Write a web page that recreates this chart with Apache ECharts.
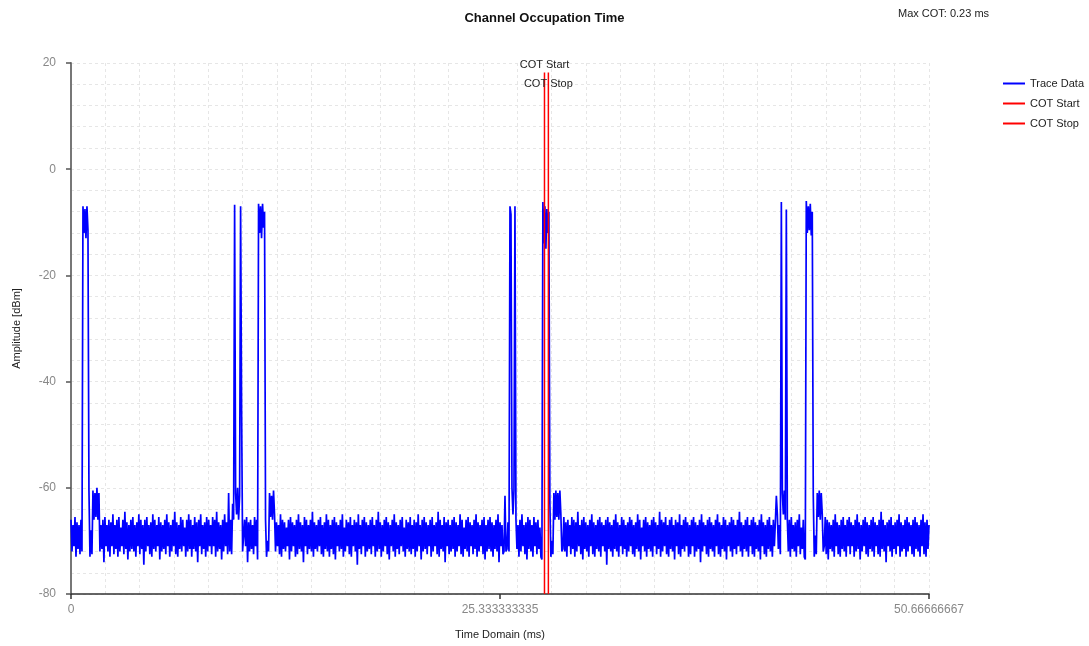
<!DOCTYPE html>
<html>
<head>
<meta charset="utf-8">
<script src="https://cdn.jsdelivr.net/npm/echarts@6/dist/echarts.min.js"></script>
<style>
html,body{margin:0;padding:0;background:#fff;}
#chart{width:1089px;height:646px;}
</style>
</head>
<body>
<div id="chart"></div>
<script>
// ---------- data ----------
const chartTitle = 'Channel Occupation Time';
const maxCotText = 'Max COT: 0.23 ms';
const seriesNames = ['Trace Data', 'COT Start', 'COT Stop'];
const timeMax = 50.66666667;                 // ms, end of trace
const xTickValues = [0, 25.333333335, 50.66666667];
const xTickLabels = ['0', '25.333333335', '50.66666667'];
const yTickValues = [-80, -60, -40, -20, 0, 20];
const cotStart = 27.96;                      // ms
const cotStop = 28.19;                       // ms
const cotLineTop = 18.2;                     // dBm, top of COT marker lines

// noise floor, uniformly sampled (861 samples over 0..timeMax), dBm
const noiseFloor = [
-66,-72,-67,-71,-65.5,-73,-66.5,-71.5,-67,-72.5,-66,-71,-65,-72,-67.5,-73.5,-66,-71,-66.5,-72,
-65.5,-71.5,-67,-72,-66,-73,-64.5,-71,-66.5,-72.5,-67,-71.5,-66,-74,-65.5,-71,-67,-72,-66,-73,
-66.5,-71,-65,-72.5,-67,-71.5,-66,-73,-65.5,-72,-67.5,-71,-66,-72.5,-64.5,-71.5,-66.5,-73.5,-67,-72,
-66,-71.5,-65.5,-72,-67,-73,-66.5,-71,-65,-72.5,-66,-71.5,-67,-74.5,-66,-72,-65.5,-71,-67,-72.5,
-66.5,-73,-65,-71.5,-66,-72,-67,-71,-65.5,-73.5,-66.5,-72,-67,-71.5,-66,-72.5,-65,-71,-66.5,-73,
-67,-72,-66,-71,-64.5,-72.5,-66.5,-73,-67,-71.5,-65.5,-72,-66,-71,-67.5,-73,-66,-72,-65,-71.5,
-66,-73,-67,-71.5,-65.5,-72,-66.5,-74,-66,-71,-65,-72.5,-67,-71.5,-66.5,-73,-65.5,-72,-66,-71,
-67,-72.5,-65.5,-71,-66,-73,-64.5,-72,-66.5,-71.5,-67,-73.5,-66,-72,-65,-71,-66.5,-72.5,-67,-71.5,
-65.5,-72,-66,-73,-67,-71,-66.5,-72.5,-65,-71.5,-66,-73,-67.5,-72,-66,-71,-65.5,-74,-66.5,-72,
-66,-71.5,-67,-72.5,-65.5,-71,-66,-73,-66.5,-72,-65,-71.5,-67,-72.5,-66,-73.5,-64.5,-71,-66.5,-72,
-67,-73,-66,-71.5,-65.5,-72,-66.5,-71,-67,-72.5,-65,-73,-66,-71.5,-66.5,-72,-67.5,-71,-66,-73.5,
-65.5,-72,-66.5,-71,-67,-73,-66,-72.5,-65,-71.5,-66.5,-72,-67,-74,-65.5,-71,-66,-72.5,-67,-71.5,
-66,-72,-64.5,-73,-66.5,-71.5,-67,-72,-66,-71,-65.5,-72.5,-67,-73,-66.5,-71.5,-65,-72,-66,-73,
-67,-71.5,-66,-72.5,-65.5,-73.5,-66.5,-71,-67,-72,-66,-71.5,-65,-73,-67.5,-72,-66,-71,-66.5,-72.5,
-65.5,-73,-67,-71,-66,-72,-66.5,-74.5,-65,-71.5,-67,-72.5,-66,-71,-65.5,-73,-66.5,-72,-67,-71.5,
-66,-72.5,-65.5,-71,-67,-73,-66,-72,-64.5,-71.5,-66.5,-73,-67,-72,-66,-71,-65.5,-72.5,-66.5,-73.5,
-67,-71,-66,-72,-65,-73,-66.5,-71.5,-67,-72.5,-66,-71,-65.5,-72,-67.5,-73,-66,-71.5,-66.5,-72,
-65.5,-72.5,-67,-71.5,-66,-73,-66.5,-72,-65,-71,-67,-73.5,-66,-72,-65.5,-71.5,-66.5,-72.5,-67,-71,
-66,-73,-65.5,-72,-67,-71,-66.5,-72.5,-64.5,-73,-66,-71.5,-67,-72,-65.5,-74,-66.5,-71,-66,-72.5,
-67,-72,-66,-71.5,-65.5,-73,-66.5,-72,-67,-71,-65,-72.5,-66,-73,-67.5,-71.5,-66,-72,-65.5,-73,
-66.5,-71,-67,-72.5,-66,-71.5,-65,-73,-66.5,-72,-67,-71,-66,-72.5,-65.5,-73.5,-67,-72,-66,-71.5,
-65.5,-72,-66.5,-73,-67,-71.5,-66,-72,-65,-74,-66.5,-71,-67,-72.5,-66,-73,-64.5,-71.5,-66.5,-72,
-67,-73,-66,-71,-65.5,-72.5,-66.5,-71.5,-67,-73,-66,-72,-65,-71,-67,-72.5,-66.5,-73.5,-65.5,-71.5,
-66,-72,-67,-73,-65.5,-71,-66.5,-72.5,-66,-71.5,-67.5,-73,-65,-72,-66,-71,-66.5,-72.5,-67,-74,
-65.5,-71.5,-66,-72,-67,-73,-66.5,-71,-65,-72.5,-66,-73,-67,-71.5,-65.5,-72,-66.5,-73,-66,-71,
-67,-72.5,-65.5,-71.5,-66,-73,-66.5,-72,-64.5,-71,-67,-72.5,-66,-73.5,-65.5,-71.5,-66.5,-72,-67,-73,
-66,-71,-65,-72.5,-66.5,-73,-67,-71.5,-66,-72,-65.5,-73,-66.5,-71,-67,-72,-66,-74.5,-65.5,-71.5,
-66.5,-72,-67,-73,-66,-71.5,-65,-72,-66.5,-73,-67,-71,-65.5,-72.5,-66,-71.5,-67,-73,-66.5,-72,
-65.5,-71,-66,-72.5,-67,-73,-66.5,-71.5,-65,-72,-66,-73.5,-67.5,-71,-66,-72,-65.5,-73,-66.5,-71.5,
-67,-72,-66,-73,-65.5,-71,-66.5,-72.5,-67,-71.5,-64.5,-73,-66,-72,-66.5,-71,-65.5,-72.5,-67,-73,
-66,-71.5,-65.5,-72,-67,-73.5,-66,-71,-66.5,-72.5,-65,-73,-67,-71.5,-66,-72,-65.5,-71,-66.5,-73,
-67,-72.5,-66,-71,-65.5,-73,-66.5,-72,-67,-71.5,-66,-74,-65,-72,-66.5,-71,-67,-72.5,-66,-73,
-65.5,-71.5,-66.5,-72,-67,-73,-66,-71,-65,-72.5,-66.5,-73,-67,-71.5,-65.5,-72,-66,-73.5,-67,-71,
-66.5,-72,-65.5,-73,-66,-71.5,-67,-72.5,-66,-71,-64.5,-72,-66.5,-73,-67,-71.5,-66,-72,-65.5,-73,
-67,-71,-66,-72.5,-65.5,-73,-66.5,-71.5,-67,-72,-66,-73.5,-65,-71,-66.5,-72.5,-67,-73,-66,-71.5,
-65.5,-72,-67,-73,-66,-71,-66.5,-72.5,-65,-71.5,-67,-73,-66,-72,-65.5,-74.5,-66.5,-71,-67,-72,
-66,-73,-65.5,-71.5,-67,-72,-66.5,-73,-66,-71,-65,-72.5,-67.5,-71.5,-66,-73,-65.5,-72,-66.5,-71,
-67,-72.5,-66,-71,-65.5,-73,-66.5,-72,-64.5,-71.5,-66,-73,-67,-72,-66.5,-71,-65.5,-72.5,-66,-73.5,
-66.5,-71.5,-67,-72,-66,-73,-65,-71,-66.5,-72.5,-67,-73,-66,-71.5,-65.5,-72,-67,-73,-66,-71,
-65.5,-72.5,-66.5,-71,-67,-73,-66,-72,-65,-71.5,-66.5,-73.5,-67,-72,-66,-71,-65.5,-72.5,-66.5,-73,
-67,-71.5,-66,-72,-65.5,-73,-66.5,-71,-67,-72.5,-66,-73,-64.5,-71.5,-66,-72,-67,-74,-66.5,-71,
-66,-72,-65.5,-73,-67,-71.5,-66.5,-72.5,-66,-71,-65,-73,-66.5,-72,-67,-71.5,-66,-73,-65.5,-72,
-66.5,-71,-67,-72.5,-66,-73,-65.5,-71.5,-66.5,-72,-67,-73,-66,-71,-65,-72.5,-66.5,-73,-66,-71.5,
-67
];

// burst samples: [sample index, dBm] replacing the noise floor
const burstSamples = [
[11,-72],[12,-7],[13,-12],[14,-7.5],[15,-13],[16,-7],[17,-11.5],[18,-60.5],[19,-73],[20,-68],[21,-72.5],
[22,-60.5],[23,-66],[24,-61],[25,-65.5],[26,-60],[27,-66],[28,-61],[29,-72],
[158,-61],[159,-72],[160,-66],[161,-72.5],[162,-63],[163,-66],[164,-6.7],[165,-61],[166,-65],[167,-60],
[168,-66],[169,-61.5],[170,-7],[171,-45.5],[172,-72],
[187,-73.5],[188,-6.5],[189,-12],[190,-7],[191,-13],[192,-6.5],[193,-11],[194,-8],[195,-66],[196,-73],
[197,-70],[198,-72],[199,-61],[200,-65.5],[201,-61.5],[202,-66],[203,-60.5],[204,-65],[205,-72],
[434,-72],[435,-61.5],[436,-72],[440,-7],[441,-8.5],[442,-60],[443,-65],[444,-60.5],[445,-7],[446,-66],
[472,-73.5],[473,-6.2],[474,-14],[475,-7],[476,-15],[477,-7.5],[478,-12],[479,-8],[480,-63],[481,-73],
[482,-70],[483,-72.5],[484,-61],[485,-66],[486,-60.5],[487,-65.5],[488,-61],[489,-66],[490,-60.5],
[491,-65],[492,-72],
[707,-61.5],[711,-72.5],[712,-6.2],[713,-61],[714,-65],[715,-60.5],[716,-66],[717,-7.6],[718,-66],
[736,-73.5],[737,-6],[738,-12],[739,-7],[740,-11.5],[741,-6.5],[742,-12.5],[743,-8],[744,-61.5],
[745,-73],[746,-69],[747,-72.5],[748,-61],[749,-65.5],[750,-60.5],[751,-66],[752,-61],[753,-65],[754,-72]
];

// ---------- build ----------
const values = noiseFloor.slice();
burstSamples.forEach(([i, v]) => { values[i] = v; });
const dt = timeMax / (noiseFloor.length - 1);
const traceData = values.map((v, i) => [i * dt, v]);

const FONT = '"Liberation Sans", Arial, sans-serif';
const gridColor = '#e6e6e6';

const chart = echarts.init(document.getElementById('chart'), null, {renderer: 'canvas'});
chart.setOption({
  animation: false,
  backgroundColor: '#ffffff',
  textStyle: {fontFamily: FONT},
  title: {
    text: chartTitle,
    left: 'center',
    top: 7,
    textStyle: {fontSize: 13, fontWeight: 'bold', color: '#111', fontFamily: FONT}
  },
  graphic: [{
    type: 'text',
    left: 898,
    top: 8,
    style: {text: maxCotText, fontSize: 11, fill: '#222', font: '11px ' + FONT}
  }],
  legend: {
    data: seriesNames,
    orient: 'vertical',
    left: 998,
    top: 73,
    itemWidth: 22,
    itemHeight: 2,
    itemGap: 9,
    icon: 'rect',
    textStyle: {fontSize: 11, color: '#222', fontFamily: FONT}
  },
  grid: {left: 71, right: 160, top: 63, bottom: 52, containLabel: false, outerBoundsMode: 'none'},
  xAxis: [{
    type: 'value',
    min: 0,
    max: timeMax,
    name: 'Time Domain (ms)',
    nameLocation: 'middle',
    nameGap: 35,
    nameTextStyle: {fontSize: 11, color: '#222', fontFamily: FONT},
    axisLine: {show: true, onZero: false, lineStyle: {color: '#333', width: 1.5}},
    axisTick: {show: true, customValues: xTickValues, length: 5, lineStyle: {color: '#333', width: 1.5}},
    axisLabel: {
      show: true, customValues: xTickValues, margin: 10,
      color: '#888', fontSize: 12, fontFamily: FONT,
      formatter: (v) => {
        const k = xTickValues.findIndex(t => Math.abs(t - v) < 1e-6);
        return k >= 0 ? xTickLabels[k] : '';
      }
    },
    splitLine: {show: false}
  }, {
    type: 'value',
    min: 0,
    max: timeMax,
    interval: timeMax / 25,
    position: 'bottom',
    axisLine: {show: false, onZero: false},
    axisTick: {show: false},
    axisLabel: {show: false},
    splitLine: {show: true, lineStyle: {color: gridColor, type: [3, 3], width: 1}}
  }],
  yAxis: {
    type: 'value',
    min: -80,
    max: 20,
    interval: 20,
    name: 'Amplitude [dBm]',
    nameLocation: 'middle',
    nameGap: 49,
    nameTextStyle: {fontSize: 11, color: '#222', fontFamily: FONT},
    axisLine: {show: true, onZero: false, lineStyle: {color: '#777', width: 2}},
    axisTick: {show: true, length: 5, lineStyle: {color: '#555', width: 1.5}},
    axisLabel: {
      color: '#888', fontSize: 12, margin: 15, fontFamily: FONT,
      formatter: (v) => (yTickValues.indexOf(v) >= 0 ? String(v) : '')
    },
    splitLine: {show: true, lineStyle: {color: gridColor, type: [3, 3], width: 1}},
    minorTick: {show: false, splitNumber: 5},
    minorSplitLine: {show: true, lineStyle: {color: gridColor, type: [3, 3], width: 1}}
  },
  series: [{
    name: seriesNames[0],
    type: 'line',
    xAxisIndex: 0,
    data: traceData,
    showSymbol: false,
    symbol: 'none',
    lineStyle: {color: '#0000ff', width: 1.7},
    itemStyle: {color: '#0000ff'},
    z: 3
  }, {
    name: seriesNames[1],
    type: 'line',
    xAxisIndex: 0,
    data: [[cotStart, -80], {value: [cotStart, cotLineTop], label: {show: true, formatter: seriesNames[1], position: 'top', distance: 2}}],
    symbol: 'circle',
    symbolSize: 0,
    showSymbol: true,
    lineStyle: {color: '#ff0000', width: 1.5},
    itemStyle: {color: '#ff0000'},
    label: {show: false, color: '#222', fontSize: 11, fontFamily: FONT},
    z: 4
  }, {
    name: seriesNames[2],
    type: 'line',
    xAxisIndex: 0,
    data: [[cotStop, -80], {value: [cotStop, cotLineTop], label: {show: true, formatter: seriesNames[2], position: 'bottom', distance: 6}}],
    symbol: 'circle',
    symbolSize: 0,
    showSymbol: true,
    lineStyle: {color: '#ff0000', width: 1.5},
    itemStyle: {color: '#ff0000'},
    label: {show: false, color: '#222', fontSize: 11, fontFamily: FONT},
    z: 4
  }]
});
</script>
</body>
</html>
